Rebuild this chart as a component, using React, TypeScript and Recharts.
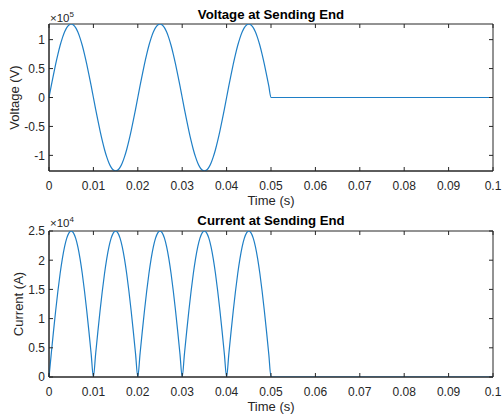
import React from "react";
import { LineChart, Line, XAxis, YAxis, ReferenceArea } from "recharts";

// sample times (s), 0.5 ms apart; the tail after 0.05 s is flat zero
const TIME_S = [
  0, 0.0005, 0.001, 0.0015, 0.002, 0.0025, 0.003, 0.0035, 0.004, 0.0045,
  0.005, 0.0055, 0.006, 0.0065, 0.007, 0.0075, 0.008, 0.0085, 0.009, 0.0095,
  0.01, 0.0105, 0.011, 0.0115, 0.012, 0.0125, 0.013, 0.0135, 0.014, 0.0145,
  0.015, 0.0155, 0.016, 0.0165, 0.017, 0.0175, 0.018, 0.0185, 0.019, 0.0195,
  0.02, 0.0205, 0.021, 0.0215, 0.022, 0.0225, 0.023, 0.0235, 0.024, 0.0245,
  0.025, 0.0255, 0.026, 0.0265, 0.027, 0.0275, 0.028, 0.0285, 0.029, 0.0295,
  0.03, 0.0305, 0.031, 0.0315, 0.032, 0.0325, 0.033, 0.0335, 0.034, 0.0345,
  0.035, 0.0355, 0.036, 0.0365, 0.037, 0.0375, 0.038, 0.0385, 0.039, 0.0395,
  0.04, 0.0405, 0.041, 0.0415, 0.042, 0.0425, 0.043, 0.0435, 0.044, 0.0445,
  0.045, 0.0455, 0.046, 0.0465, 0.047, 0.0475, 0.048, 0.0485, 0.049, 0.0495,
  0.05, 0.1,
];

// voltage, in units of 1e5 V (one half-cycle per row)
const VOLTAGE = [
  0, 0.199, 0.392, 0.577, 0.746, 0.898, 1.027, 1.132, 1.208, 1.254,
  1.27, 1.254, 1.208, 1.132, 1.027, 0.898, 0.746, 0.577, 0.392, 0.199,
  0, -0.199, -0.392, -0.577, -0.746, -0.898, -1.027, -1.132, -1.208, -1.254,
  -1.27, -1.254, -1.208, -1.132, -1.027, -0.898, -0.746, -0.577, -0.392, -0.199,
  0, 0.199, 0.392, 0.577, 0.746, 0.898, 1.027, 1.132, 1.208, 1.254,
  1.27, 1.254, 1.208, 1.132, 1.027, 0.898, 0.746, 0.577, 0.392, 0.199,
  0, -0.199, -0.392, -0.577, -0.746, -0.898, -1.027, -1.132, -1.208, -1.254,
  -1.27, -1.254, -1.208, -1.132, -1.027, -0.898, -0.746, -0.577, -0.392, -0.199,
  0, 0.199, 0.392, 0.577, 0.746, 0.898, 1.027, 1.132, 1.208, 1.254,
  1.27, 1.254, 1.208, 1.132, 1.027, 0.898, 0.746, 0.577, 0.392, 0.199,
  0, 0,
];

// current, in units of 1e4 A
const CURRENT = [
  0, 0.391, 0.773, 1.135, 1.469, 1.768, 2.023, 2.228, 2.378, 2.469,
  2.5, 2.469, 2.378, 2.228, 2.023, 1.768, 1.469, 1.135, 0.773, 0.391,
  0, 0.391, 0.773, 1.135, 1.469, 1.768, 2.023, 2.228, 2.378, 2.469,
  2.5, 2.469, 2.378, 2.228, 2.023, 1.768, 1.469, 1.135, 0.773, 0.391,
  0, 0.391, 0.773, 1.135, 1.469, 1.768, 2.023, 2.228, 2.378, 2.469,
  2.5, 2.469, 2.378, 2.228, 2.023, 1.768, 1.469, 1.135, 0.773, 0.391,
  0, 0.391, 0.773, 1.135, 1.469, 1.768, 2.023, 2.228, 2.378, 2.469,
  2.5, 2.469, 2.378, 2.228, 2.023, 1.768, 1.469, 1.135, 0.773, 0.391,
  0, 0.391, 0.773, 1.135, 1.469, 1.768, 2.023, 2.228, 2.378, 2.469,
  2.5, 2.469, 2.378, 2.228, 2.023, 1.768, 1.469, 1.135, 0.773, 0.391,
  0, 0,
];

const TIME_TICKS = [0, 0.01, 0.02, 0.03, 0.04, 0.05, 0.06, 0.07, 0.08, 0.09, 0.1];
const VOLT_TICKS = [-1, -0.5, 0, 0.5, 1];
const CURR_TICKS = [0, 0.5, 1, 1.5, 2, 2.5];
const VOLT_DOMAIN = [-1.27, 1.27];
const CURR_DOMAIN = [0, 2.5];

const voltageData = TIME_S.map((t, i) => ({ t, v: VOLTAGE[i] }));
const currentData = TIME_S.map((t, i) => ({ t, a: CURRENT[i] }));

const AXIS = "#262626";
const LINE = "#1f7fc6";
const FONT = "'Liberation Sans', Arial, Helvetica, sans-serif";
const W = 503;
const PLOT_W = 444;
const TICK_LEN = 4;

// bottom tick: inward tick at bottom and top edge + label
function XTick(props: any) {
  const { x, y, payload, plotHeight } = props;
  return (
    <g>
      <line x1={x} y1={y} x2={x} y2={y - TICK_LEN} stroke={AXIS} />
      <line x1={x} y1={y - plotHeight} x2={x} y2={y - plotHeight + TICK_LEN} stroke={AXIS} />
      <text x={x} y={y + 19} textAnchor="middle" fontSize={12} fill={AXIS} fontFamily={FONT}>
        {payload.value}
      </text>
    </g>
  );
}

function YTick(props: any) {
  const { x, y, payload } = props;
  return (
    <g>
      <line x1={x} y1={y} x2={x + TICK_LEN} y2={y} stroke={AXIS} />
      <line x1={x + PLOT_W} y1={y} x2={x + PLOT_W - TICK_LEN} y2={y} stroke={AXIS} />
      <text x={x - 4} y={y} dy="0.36em" textAnchor="end" fontSize={12} fill={AXIS} fontFamily={FONT}>
        {payload.value}
      </text>
    </g>
  );
}

function YLabel(props: any) {
  const { viewBox, value, cx } = props;
  const cy = viewBox.y + viewBox.height / 2;
  return (
    <text
      x={cx}
      y={cy}
      dy="0.36em"
      transform={`rotate(-90 ${cx} ${cy})`}
      textAnchor="middle"
      fontSize={13}
      fill={AXIS}
      fontFamily={FONT}
    >
      {value}
    </text>
  );
}

function XLabel(props: any) {
  const { viewBox } = props;
  const cx = viewBox.x + viewBox.width / 2;
  return (
    <text x={cx} y={viewBox.y + 34} textAnchor="middle" fontSize={13} fill={AXIS} fontFamily={FONT}>
      Time (s)
    </text>
  );
}

export default function App() {
  return (
    <div style={{ position: "absolute", left: 0, top: 0, width: W, height: 417, background: "#fff" }}>
      <LineChart width={W} height={208} data={voltageData} margin={{ top: 24, right: 10, bottom: 0, left: 0 }}>
        <XAxis
          dataKey="t"
          type="number"
          domain={[0, 0.1]}
          ticks={TIME_TICKS}
          interval={0}
          height={37}
          tickSize={0}
          tickMargin={0}
          tickLine={false}
          axisLine={{ stroke: AXIS }}
          tick={(p: any) => <XTick {...p} plotHeight={147} />}
          label={{ content: (p: any) => <XLabel {...p} /> }}
        />
        <YAxis
          type="number"
          domain={VOLT_DOMAIN}
          ticks={VOLT_TICKS}
          interval={0}
          width={49}
          allowDataOverflow
          tickSize={0}
          tickMargin={0}
          tickLine={false}
          axisLine={{ stroke: AXIS }}
          tick={(p: any) => <YTick {...p} />}
          label={{ content: (p: any) => <YLabel {...p} value="Voltage (V)" cx={14} /> }}
        />
        <ReferenceArea x1={0} x2={0.1} y1={VOLT_DOMAIN[0]} y2={VOLT_DOMAIN[1]} fill="none" stroke={AXIS} ifOverflow="visible" />
        <Line type="monotone" dataKey="v" stroke={LINE} strokeWidth={1.2} dot={false} isAnimationActive={false} />
      </LineChart>
      <LineChart width={W} height={209} data={currentData} margin={{ top: 23, right: 10, bottom: 0, left: 0 }}>
        <XAxis
          dataKey="t"
          type="number"
          domain={[0, 0.1]}
          ticks={TIME_TICKS}
          interval={0}
          height={40}
          tickSize={0}
          tickMargin={0}
          tickLine={false}
          axisLine={{ stroke: AXIS }}
          tick={(p: any) => <XTick {...p} plotHeight={146} />}
          label={{ content: (p: any) => <XLabel {...p} /> }}
        />
        <YAxis
          type="number"
          domain={CURR_DOMAIN}
          ticks={CURR_TICKS}
          interval={0}
          width={49}
          allowDataOverflow
          tickSize={0}
          tickMargin={0}
          tickLine={false}
          axisLine={{ stroke: AXIS }}
          tick={(p: any) => <YTick {...p} />}
          label={{ content: (p: any) => <YLabel {...p} value="Current (A)" cx={18.5} /> }}
        />
        <ReferenceArea x1={0} x2={0.1} y1={CURR_DOMAIN[0]} y2={CURR_DOMAIN[1]} fill="none" stroke={AXIS} ifOverflow="visible" />
        <Line type="monotone" dataKey="a" stroke={LINE} strokeWidth={1.2} dot={false} isAnimationActive={false} />
      </LineChart>
      {/* titles and exponent labels */}
      <svg width={W} height={417} style={{ position: "absolute", left: 0, top: 0, pointerEvents: "none" }}>
        <g fontFamily={FONT}>
          <text x={271} y={19} textAnchor="middle" fontSize={13.2} fontWeight="bold" fill="#000">
            Voltage at Sending End
          </text>
          <text x={271} y={225} textAnchor="middle" fontSize={13.2} fontWeight="bold" fill="#000">
            Current at Sending End
          </text>
          <text x={50} y={21.5} fontSize={11.5} fill={AXIS}>
            ×10<tspan fontSize={8} dy={-5}>5</tspan>
          </text>
          <text x={50} y={227} fontSize={11.5} fill={AXIS}>
            ×10<tspan fontSize={8} dy={-5}>4</tspan>
          </text>
        </g>
      </svg>
    </div>
  );
}
